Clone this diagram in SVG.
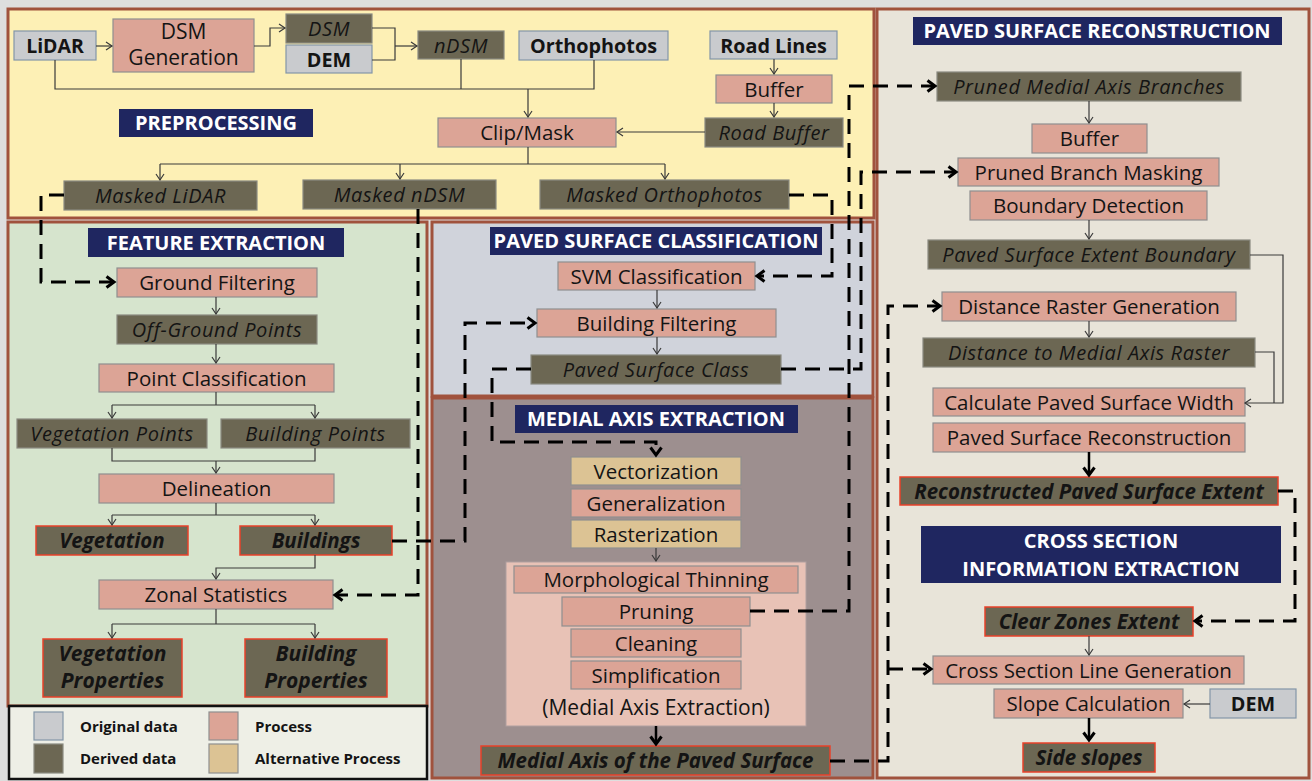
<svg xmlns="http://www.w3.org/2000/svg" width="1312" height="781" viewBox="0 0 1312 781">
<style>
.panel{stroke:#a0523d;stroke-width:3}
.hdr{fill:#1f2660}
.orig{fill:#c9cbce;stroke:#8496a8;stroke-width:1.2}
.proc{fill:#dca496;stroke:#8f8f8f;stroke-width:1.2}
.der{fill:#6c6753;stroke:#8a8a80;stroke-width:1.2}
.alt{fill:#dcc394;stroke:#8f8f8f;stroke-width:1.2}
.red{fill:#6c6753;stroke:#e8412a;stroke-width:1.5}
text{font-family:"Open Sans","Liberation Sans",sans-serif;font-size:20.5px;fill:#141414;text-anchor:middle}
.ti{font-style:italic;letter-spacing:0.6px;font-size:20px}
.tb{font-weight:bold;font-size:19.8px}
.tbi{font-weight:bold;font-style:italic;font-size:20.5px}
.hd{font-weight:bold;fill:#ffffff;font-size:20px}
.lg{font-weight:bold;font-size:15px;text-anchor:start}
.thin{fill:none;stroke:#3a3a3a;stroke-width:1.2}
.thick{fill:none;stroke:#000;stroke-width:2.5}
.dash{fill:none;stroke:#000;stroke-width:3;stroke-dasharray:15 9}
</style>
<defs>
<marker id="a" markerUnits="userSpaceOnUse" markerWidth="12" markerHeight="12" refX="7" refY="5" orient="auto">
<path d="M1,1 L7,5 L1,9" fill="none" stroke="#3a3a3a" stroke-width="1.2"/>
</marker>
<marker id="b" markerUnits="userSpaceOnUse" markerWidth="14" markerHeight="16" refX="9" refY="7" orient="auto">
<path d="M1.5,1.5 L9,7 L1.5,12.5" fill="none" stroke="#000" stroke-width="3" stroke-dasharray="none"/>
</marker>
</defs>
<rect x="0" y="0" width="1312" height="781" fill="#dedede"/>

<g id="panels">
<rect class="panel" x="8" y="9" width="866" height="209" fill="#fdf0b5"/>
<rect class="panel" x="8" y="222" width="419" height="484" fill="#d6e4cd"/>
<rect class="panel" x="432" y="222" width="441" height="174" fill="#d0d3db"/>
<rect class="panel" x="432" y="398" width="441" height="380" fill="#9d8f8f"/>
<rect class="panel" x="877" y="9" width="432" height="769" fill="#e8e4d9"/>
<rect x="9" y="706" width="418" height="73" fill="#eeefe6" stroke="#111" stroke-width="2.5"/>
</g>

<g id="headers">
<rect class="hdr" x="119" y="109" width="194" height="28"/><text class="hd" x="216" y="130">PREPROCESSING</text>
<rect class="hdr" x="88" y="228" width="256" height="29"/><text class="hd" x="216" y="249.5">FEATURE EXTRACTION</text>
<rect class="hdr" x="490" y="227" width="332" height="28"/><text class="hd" x="656" y="248">PAVED SURFACE CLASSIFICATION</text>
<rect class="hdr" x="515" y="405" width="283" height="28"/><text class="hd" x="656" y="426">MEDIAL AXIS EXTRACTION</text>
<rect class="hdr" x="913" y="17" width="369" height="28"/><text class="hd" x="1097" y="38">PAVED SURFACE RECONSTRUCTION</text>
<rect class="hdr" x="921" y="526" width="360" height="57"/><text class="hd" x="1101" y="547.5">CROSS SECTION</text><text class="hd" x="1101" y="575.5">INFORMATION EXTRACTION</text>
</g>

<g id="n-lidar"><rect class="orig" x="14" y="31" width="82" height="29"/><text class="tb" x="55" y="52.5" style="font-size:19.5px">LiDAR</text></g>
<g id="n-dsmgen"><rect class="proc" x="113" y="19" width="141" height="53"/><text x="183.5" y="39" style="font-size:21px">DSM</text><text x="183.5" y="65" style="font-size:21px">Generation</text></g>
<g id="n-dsm"><rect class="der" x="286" y="14" width="86" height="29"/><text class="ti" x="329" y="35.5">DSM</text></g>
<g id="n-dem1"><rect class="orig" x="286" y="45" width="86" height="28"/><text class="tb" x="329" y="66.5">DEM</text></g>
<g id="n-ndsm"><rect class="der" x="418" y="31" width="86" height="28"/><text class="ti" x="461" y="52.5">nDSM</text></g>
<g id="n-ortho"><rect class="orig" x="519" y="31" width="149" height="29"/><text class="tb" x="593.5" y="52.5">Orthophotos</text></g>
<g id="n-roadlines"><rect class="orig" x="710" y="31" width="127" height="28"/><text class="tb" x="773.5" y="52.5">Road Lines</text></g>
<g id="n-buffer1"><rect class="proc" x="716" y="75" width="116" height="28"/><text x="774" y="96.5">Buffer</text></g>
<g id="n-roadbuffer"><rect class="der" x="705" y="118" width="138" height="29"/><text class="ti" x="774" y="139.5">Road Buffer</text></g>
<g id="n-clipmask"><rect class="proc" x="438" y="118" width="178" height="29"/><text x="527" y="139.5">Clip/Mask</text></g>
<g id="n-mlidar"><rect class="der" x="64" y="181" width="193" height="29"/><text class="ti" x="160.5" y="202.5">Masked LiDAR</text></g>
<g id="n-mndsm"><rect class="der" x="303" y="180" width="193" height="29"/><text class="ti" x="399.5" y="201.5">Masked nDSM</text></g>
<g id="n-mortho"><rect class="der" x="540" y="180" width="249" height="29"/><text class="ti" x="664.5" y="201.5">Masked Orthophotos</text></g>

<g id="n-ground"><rect class="proc" x="117" y="268" width="200" height="29"/><text x="217" y="289.5">Ground Filtering</text></g>
<g id="n-offground"><rect class="der" x="117" y="315" width="200" height="29"/><text class="ti" x="217" y="336.5">Off-Ground Points</text></g>
<g id="n-pointclass"><rect class="proc" x="99" y="364" width="235" height="28"/><text x="216.5" y="385.5">Point Classification</text></g>
<g id="n-vegpts"><rect class="der" x="17" y="419" width="190" height="29"/><text class="ti" x="112" y="440.5">Vegetation Points</text></g>
<g id="n-bldpts"><rect class="der" x="221" y="419" width="189" height="29"/><text class="ti" x="315.5" y="440.5">Building Points</text></g>
<g id="n-delin"><rect class="proc" x="99" y="474" width="235" height="29"/><text x="216.5" y="495.5">Delineation</text></g>
<g id="n-veg"><rect class="red" x="36" y="526" width="152" height="29"/><text class="tbi" x="112" y="547.5">Vegetation</text></g>
<g id="n-bld"><rect class="red" x="240" y="526" width="152" height="29"/><text class="tbi" x="316" y="547.5">Buildings</text></g>
<g id="n-zonal"><rect class="proc" x="99" y="580" width="234" height="29"/><text x="216" y="601.5">Zonal Statistics</text></g>
<g id="n-vegprop"><rect class="red" x="43" y="639" width="139" height="58"/><text class="tbi" x="112.5" y="661" style="font-size:21px">Vegetation</text><text class="tbi" x="112.5" y="688" style="font-size:21px">Properties</text></g>
<g id="n-bldprop"><rect class="red" x="245" y="639" width="142" height="58"/><text class="tbi" x="316" y="661" style="font-size:21px">Building</text><text class="tbi" x="316" y="688" style="font-size:21px">Properties</text></g>

<g id="legend">
<rect class="orig" x="34" y="712" width="29" height="28"/><text class="lg" x="80" y="732">Original data</text>
<rect class="der" x="34" y="744" width="29" height="29"/><text class="lg" x="80" y="764">Derived data</text>
<rect class="proc" x="209" y="712" width="29" height="28"/><text class="lg" x="255" y="732">Process</text>
<rect class="alt" x="209" y="744" width="29" height="29"/><text class="lg" x="255" y="764">Alternative Process</text>
</g>

<g id="n-svm"><rect class="proc" x="558" y="262" width="197" height="28"/><text x="656.5" y="283.5">SVM Classification</text></g>
<g id="n-bfilter"><rect class="proc" x="537" y="309" width="239" height="28"/><text x="656.5" y="330.5">Building Filtering</text></g>
<g id="n-psclass"><rect class="der" x="531" y="355" width="250" height="29"/><text class="ti" x="656" y="376.5">Paved Surface Class</text></g>

<g id="n-vector"><rect class="alt" x="571" y="457" width="170" height="28"/><text x="656" y="478.5">Vectorization</text></g>
<g id="n-general"><rect class="proc" x="571" y="489" width="170" height="28"/><text x="656" y="510.5">Generalization</text></g>
<g id="n-raster"><rect class="alt" x="571" y="520" width="170" height="28"/><text x="656" y="541.5">Rasterization</text></g>
<g id="n-mae-box"><rect x="506" y="562" width="300" height="164" fill="#e8c2b6" stroke="#b0a0a0" stroke-width="1"/><text x="656" y="715" style="font-size:21px">(Medial Axis Extraction)</text></g>
<g id="n-thin"><rect class="proc" x="514" y="566" width="284" height="27"/><text x="656" y="587">Morphological Thinning</text></g>
<g id="n-prune"><rect class="proc" x="562" y="597" width="188" height="29"/><text x="656" y="618.5">Pruning</text></g>
<g id="n-clean"><rect class="proc" x="571" y="629" width="170" height="28"/><text x="656" y="650.5">Cleaning</text></g>
<g id="n-simpl"><rect class="proc" x="571" y="661" width="170" height="28"/><text x="656" y="682.5">Simplification</text></g>
<g id="n-medial"><rect class="red" x="481" y="746" width="349" height="29"/><text class="tbi" x="655.5" y="767.5">Medial Axis of the Paved Surface</text></g>

<g id="n-pmab"><rect class="der" x="937" y="72" width="304" height="29"/><text class="ti" x="1089" y="93.5">Pruned Medial Axis Branches</text></g>
<g id="n-buffer2"><rect class="proc" x="1032" y="124" width="115" height="29"/><text x="1089.5" y="145.5">Buffer</text></g>
<g id="n-pbm"><rect class="proc" x="958" y="158" width="261" height="28"/><text x="1088.5" y="179.5">Pruned Branch Masking</text></g>
<g id="n-bdet"><rect class="proc" x="970" y="191" width="237" height="29"/><text x="1088.5" y="212.5">Boundary Detection</text></g>
<g id="n-pseb"><rect class="der" x="928" y="240" width="322" height="29"/><text class="ti" x="1089" y="261.5">Paved Surface Extent Boundary</text></g>
<g id="n-drg"><rect class="proc" x="942" y="292" width="294" height="29"/><text x="1089" y="313.5">Distance Raster Generation</text></g>
<g id="n-dmar"><rect class="der" x="923" y="338" width="332" height="29"/><text class="ti" x="1089" y="359.5">Distance to Medial Axis Raster</text></g>
<g id="n-cpsw"><rect class="proc" x="933" y="388" width="312" height="28"/><text x="1089" y="409.5">Calculate Paved Surface Width</text></g>
<g id="n-psr"><rect class="proc" x="933" y="423" width="312" height="29"/><text x="1089" y="444.5">Paved Surface Reconstruction</text></g>
<g id="n-rpse"><rect class="red" x="900" y="477" width="378" height="28"/><text class="tbi" x="1089" y="498.5">Reconstructed Paved Surface Extent</text></g>
<g id="n-cze"><rect class="red" x="985" y="607" width="208" height="29"/><text class="tbi" x="1089" y="628.5">Clear Zones Extent</text></g>
<g id="n-cslg"><rect class="proc" x="933" y="656" width="311" height="28"/><text x="1088.5" y="677.5">Cross Section Line Generation</text></g>
<g id="n-slope"><rect class="proc" x="994" y="689" width="189" height="29"/><text x="1088.5" y="710.5">Slope Calculation</text></g>
<g id="n-dem2"><rect class="orig" x="1210" y="689" width="86" height="29"/><text class="tb" x="1253" y="710.5">DEM</text></g>
<g id="n-side"><rect class="red" x="1023" y="743" width="132" height="29"/><text class="tbi" x="1089" y="764.5">Side slopes</text></g>

<g id="connectors">
<path class="thin" d="M96,46 H112" marker-end="url(#a)"/>
<path class="thin" d="M254,46 H270 V28 H285" marker-end="url(#a)"/>
<path class="thin" d="M372,28 H395 V60 H372"/>
<path class="thin" d="M395,46 H417" marker-end="url(#a)"/>
<path class="thin" d="M55,60 V89 H594 V60"/>
<path class="thin" d="M461,59 V89"/>
<path class="thin" d="M528,89 V117" marker-end="url(#a)"/>
<path class="thin" d="M774,59 V74" marker-end="url(#a)"/>
<path class="thin" d="M774,103 V117" marker-end="url(#a)"/>
<path class="thin" d="M705,132 H617" marker-end="url(#a)"/>
<path class="thin" d="M528,147 V164 M160,164 H665"/>
<path class="thin" d="M160,164 V180" marker-end="url(#a)"/>
<path class="thin" d="M400,164 V179" marker-end="url(#a)"/>
<path class="thin" d="M665,164 V179" marker-end="url(#a)"/>
<path class="thin" d="M216,297 V314" marker-end="url(#a)"/>
<path class="thin" d="M216,344 V363" marker-end="url(#a)"/>
<path class="thin" d="M216,392 V405 M112,405 H315"/>
<path class="thin" d="M112,405 V418" marker-end="url(#a)"/>
<path class="thin" d="M315,405 V418" marker-end="url(#a)"/>
<path class="thin" d="M112,448 V461 H315 V448"/>
<path class="thin" d="M216,461 V473" marker-end="url(#a)"/>
<path class="thin" d="M216,503 V515 M112,515 H315"/>
<path class="thin" d="M112,515 V525" marker-end="url(#a)"/>
<path class="thin" d="M315,515 V525" marker-end="url(#a)"/>
<path class="thin" d="M315,555 V568 H216 V579" marker-end="url(#a)"/>
<path class="thin" d="M216,609 V624 M112,624 H315"/>
<path class="thin" d="M112,624 V638" marker-end="url(#a)"/>
<path class="thin" d="M315,624 V638" marker-end="url(#a)"/>
<path class="thin" d="M657,290 V308" marker-end="url(#a)"/>
<path class="thin" d="M657,337 V354" marker-end="url(#a)"/>
<path class="thin" d="M656,548 V561" marker-end="url(#a)"/>
<path class="thick" d="M656,726 V744" marker-end="url(#b)"/>
<path class="thin" d="M1089,101 V123" marker-end="url(#a)"/>
<path class="thin" d="M1089,220 V239" marker-end="url(#a)"/>
<path class="thin" d="M1089,321 V337" marker-end="url(#a)"/>
<path class="thin" d="M1250,255 H1283 V403 H1245" marker-end="url(#a)"/>
<path class="thin" d="M1255,352 H1274 V403"/>
<path class="thick" d="M1089,452 V475" marker-end="url(#b)"/>
<path class="thin" d="M1089,636 V655" marker-end="url(#a)"/>
<path class="thin" d="M1210,704 H1184" marker-end="url(#a)"/>
<path class="thick" d="M1089,718 V740" marker-end="url(#b)"/>
<path class="dash" d="M64,195 H41 V282 H114" marker-end="url(#b)"/>
<path class="dash" d="M418,209 V595 H335" marker-end="url(#b)"/>
<path class="dash" d="M392,541 H465 V323 H535" marker-end="url(#b)"/>
<path class="dash" d="M789,195 H832 V276 H757" marker-end="url(#b)"/>
<path class="dash" d="M531,369 H492 V442 H656 V455" marker-end="url(#b)"/>
<path class="dash" d="M781,369 H861 V172 H956" marker-end="url(#b)"/>
<path class="dash" d="M750,611 H849 V86 H935" marker-end="url(#b)"/>
<path class="dash" d="M830,761 H888 V306 H940" marker-end="url(#b)"/>
<path class="dash" d="M888,669 H931" marker-end="url(#b)"/>
<path class="dash" d="M1278,491 H1295 V621 H1195" marker-end="url(#b)"/>
</g>
</svg>
